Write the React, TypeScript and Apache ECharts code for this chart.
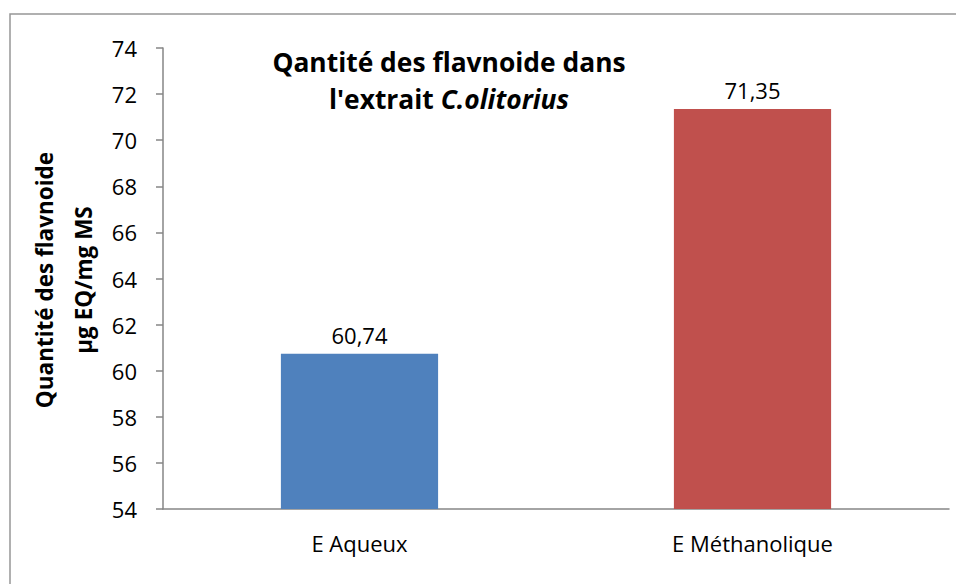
import React, { useEffect, useRef } from "react";
import * as echarts from "echarts";

const categories = ["E Aqueux", "E Méthanolique"];
const values = [60.74, 71.35];
const barColors = ["#4F81BD", "#C0504D"];
const titleLine1 = "Qantité des flavnoide dans";
const titleLine2a = "l'extrait ";
const titleLine2b = "C.olitorius";
const yNameLine1 = "Quantité des flavnoide";
const yNameLine2 = "µg EQ/mg MS";
const yMin = 54;
const yMax = 74;
const yInterval = 2;

const FONT = "'Open Sans', 'Liberation Sans', sans-serif";

export default function App() {
  const ref = useRef<HTMLDivElement>(null);
  useEffect(() => {
    document.body.style.margin = "0";
    if (!ref.current) return;
    const chart = echarts.init(ref.current, null, { renderer: "svg" });
    chart.setOption({
      animation: false,
      backgroundColor: "#ffffff",
      textStyle: { fontFamily: FONT },
      title: {
        text: `{b|${titleLine1}}\n{b|${titleLine2a}}{i|${titleLine2b}}`,
        left: 444,
        top: 38,
        textAlign: "center",
        textStyle: {
          rich: {
            b: { fontFamily: FONT, fontWeight: "bold", fontSize: 26.4, color: "#000", lineHeight: 37 },
            i: { fontFamily: FONT, fontWeight: "bold", fontStyle: "italic", fontSize: 26.4, color: "#000", lineHeight: 37 },
          },
        },
      },
      graphic: [
        {
          type: "rect",
          shape: { x: 10, y: 14, width: 980, height: 620 },
          style: { fill: "none", stroke: "#969696", lineWidth: 1.5 },
          silent: true,
          z: -1,
        },
        {
          type: "text",
          x: 44,
          y: 280,
          rotation: Math.PI / 2,
          style: {
            text: yNameLine1,
            fontFamily: FONT,
            fontWeight: "bold",
            fontSize: 22.5,
            fill: "#000",
            align: "center",
            verticalAlign: "middle",
          },
        },
        {
          type: "text",
          x: 83,
          y: 280,
          rotation: Math.PI / 2,
          style: {
            text: yNameLine2,
            fontFamily: FONT,
            fontWeight: "bold",
            fontSize: 22.5,
            fill: "#000",
            align: "center",
            verticalAlign: "middle",
          },
        },
      ],
      grid: { left: 163, top: 48, right: 7, bottom: 75, containLabel: false },
      xAxis: {
        type: "category",
        data: categories,
        axisLine: { lineStyle: { color: "#868686", width: 1.5 } },
        axisTick: { length: 8, lineStyle: { color: "#868686", width: 1.5 } },
        axisLabel: { color: "#000", fontSize: 22, fontFamily: FONT, margin: 23 },
      },
      yAxis: {
        type: "value",
        min: yMin,
        max: yMax,
        interval: yInterval,
        splitLine: { show: false },
        axisLine: { show: true, lineStyle: { color: "#868686", width: 1.5 } },
        axisTick: { show: true, length: 7, lineStyle: { color: "#868686", width: 1.5 } },
        axisLabel: { color: "#000", fontSize: 22, fontFamily: FONT, margin: 26 },
      },
      series: [
        {
          type: "bar",
          barWidth: "40%",
          data: values.map((v, i) => ({ value: v, itemStyle: { color: barColors[i] } })),
          label: {
            show: true,
            position: "top",
            distance: 8,
            color: "#000",
            fontSize: 22,
            fontFamily: FONT,
            formatter: (p: any) => Number(p.value).toFixed(2).replace(".", ","),
          },
        },
      ],
    });
    return () => chart.dispose();
  }, []);
  return <div ref={ref} style={{ width: 956, height: 584 }} />;
}
